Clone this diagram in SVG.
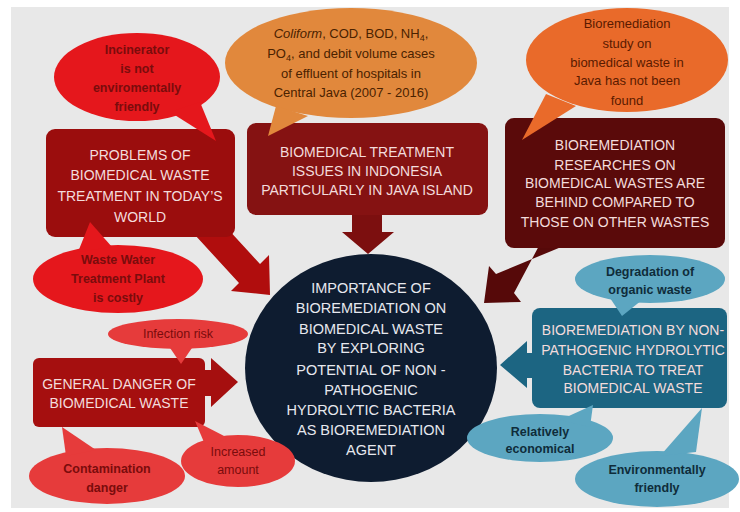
<svg xmlns="http://www.w3.org/2000/svg" width="740" height="512" viewBox="0 0 740 512">
<style>
.cap{font-family:"Liberation Sans",Arial,sans-serif;font-size:14px;text-anchor:middle;fill:#f3dcdc}
.cir{font-family:"Liberation Sans",Arial,sans-serif;font-size:14.5px;text-anchor:middle;fill:#e6e8ee}
.bub{font-family:"Liberation Sans",Arial,sans-serif;font-size:12.5px;font-weight:bold;text-anchor:middle}
.thin{font-weight:normal}
.redt{fill:#7a0c0c}
.ort{font-family:"Liberation Sans",Arial,sans-serif;font-size:13px;text-anchor:middle;fill:#4a2200}
.or2t{fill:#5a1a00}
.blt{fill:#0f2c3a}
.red{fill:#e5171c}
.red2{fill:#e63b3b}
.or1{fill:#e1883c}
.or2{fill:#e96a2a}
.lb{fill:#5ca6c1}
</style>
<rect x="0" y="0" width="740" height="512" fill="#ffffff"/>
<rect x="11" y="7" width="718" height="501" fill="#e8e8e8"/>

<g id="connectors">
  <polygon points="215,215 260,264 269,255 270,295 231,291 239,283 195,235" fill="#b00d0d"/>
  <polygon points="352,210 382,210 382,232 394,232 368,254 342,232 352,232" fill="#7c0f0f"/>
  <polygon points="550,225 514,293 521,302 484,303 489,266 496,274 566,245" fill="#560909"/>
  <polygon points="200,370 211,370 211,358 238,382 211,407 211,396 200,396" fill="#a50f0f"/>
  <polygon points="540,353 527,353 527,341 500,365 527,388 527,378 540,378" fill="#1c6582"/>
</g>

<g id="circle">
  <ellipse cx="371" cy="368" rx="126" ry="114" fill="#0e1c30"/>
  <text class="cir" x="371" y="293">IMPORTANCE OF</text>
  <text class="cir" x="371" y="313">BIOREMEDIATION ON</text>
  <text class="cir" x="371" y="334">BIOMEDICAL WASTE</text>
  <text class="cir" x="371" y="353">BY EXPLORING</text>
  <text class="cir" x="371" y="375">POTENTIAL OF NON -</text>
  <text class="cir" x="371" y="395">PATHOGENIC</text>
  <text class="cir" x="371" y="415">HYDROLYTIC BACTERIA</text>
  <text class="cir" x="371" y="435">AS BIOREMEDIATION</text>
  <text class="cir" x="371" y="455">AGENT</text>
</g>

<g id="problems">
  <rect x="46" y="129" width="189" height="108" rx="9" fill="#9b0d0d"/>
  <text class="cap" x="140" y="160">PROBLEMS OF</text>
  <text class="cap" x="140" y="180">BIOMEDICAL WASTE</text>
  <text class="cap" x="140" y="201">TREATMENT IN TODAY’S</text>
  <text class="cap" x="140" y="222">WORLD</text>
</g>

<g id="incinerator">
  <ellipse class="red" cx="137" cy="77" rx="83" ry="44"/>
  <polygon class="red" points="170,112 200,102 216,141"/>
  <text class="bub redt" x="137" y="54">Incinerator</text>
  <text class="bub redt" x="137" y="73">is not</text>
  <text class="bub redt" x="137" y="92">enviromentally</text>
  <text class="bub redt" x="137" y="111">friendly</text>
</g>

<g id="wastewater">
  <ellipse class="red" cx="118" cy="279" rx="85" ry="34"/>
  <polygon class="red" points="78,252 112,247 90,222"/>
  <text class="bub redt" x="118" y="264">Waste Water</text>
  <text class="bub redt" x="118" y="283">Treatment  Plant</text>
  <text class="bub redt" x="118" y="302">is costly</text>
</g>

<g id="indonesia">
  <rect x="247" y="123" width="241" height="92" rx="9" fill="#851212"/>
  <text class="cap" x="367" y="157">BIOMEDICAL TREATMENT</text>
  <text class="cap" x="367" y="176">ISSUES IN INDONESIA</text>
  <text class="cap" x="367" y="195">PARTICULARLY IN JAVA ISLAND</text>
</g>

<g id="coliform">
  <ellipse class="or1" cx="351" cy="63" rx="126" ry="55"/>
  <polygon class="or1" points="276,106 308,116 268,136"/>
  <text class="ort" x="351" y="38"><tspan font-style="italic">Coliform</tspan>, COD, BOD, NH<tspan font-size="9" dy="3">4</tspan><tspan dy="-3">,</tspan></text>
  <text class="ort" x="351" y="58">PO<tspan font-size="9" dy="3">4</tspan><tspan dy="-3">, and debit volume cases</tspan></text>
  <text class="ort" x="351" y="78">of effluent of hospitals in</text>
  <text class="ort" x="351" y="97">Central Java (2007 -  2016)</text>
</g>

<g id="researches">
  <rect x="505" y="118" width="220" height="130" rx="9" fill="#5a0a0a"/>
  <text class="cap" x="615" y="150">BIOREMEDIATION</text>
  <text class="cap" x="615" y="170">RESEARCHES ON</text>
  <text class="cap" x="615" y="188">BIOMEDICAL WASTES ARE</text>
  <text class="cap" x="615" y="207">BEHIND COMPARED TO</text>
  <text class="cap" x="615" y="227">THOSE ON OTHER WASTES</text>
</g>

<g id="study">
  <ellipse class="or2" cx="627" cy="60" rx="101" ry="52"/>
  <polygon class="or2" points="546,94 576,106 522,140"/>
  <text class="ort or2t" x="627" y="28">Bioremediation</text>
  <text class="ort or2t" x="627" y="48">study on</text>
  <text class="ort or2t" x="627" y="67">biomedical waste in</text>
  <text class="ort or2t" x="627" y="85">Java has not been</text>
  <text class="ort or2t" x="627" y="105">found</text>
</g>

<g id="general">
  <rect x="33" y="358" width="172" height="69" rx="6" fill="#a50f0f"/>
  <text class="cap" x="119" y="389">GENERAL DANGER OF</text>
  <text class="cap" x="119" y="408">BIOMEDICAL WASTE</text>
</g>

<g id="infection">
  <ellipse class="red2" cx="178" cy="334" rx="70" ry="15"/>
  <polygon class="red2" points="168,345 194,345 181,364"/>
  <text class="bub thin redt" x="178" y="338">Infection risk</text>
</g>

<g id="contamination">
  <ellipse class="red2" cx="107" cy="476" rx="78" ry="28"/>
  <polygon class="red2" points="62,427 66,456 96,450"/>
  <text class="bub redt" x="107" y="473">Contamination</text>
  <text class="bub redt" x="107" y="492">danger</text>
</g>

<g id="increased">
  <ellipse class="red2" cx="238" cy="461" rx="57" ry="26"/>
  <polygon class="red2" points="195,421 206,447 228,438"/>
  <text class="bub thin redt" x="238" y="456">Increased</text>
  <text class="bub thin redt" x="238" y="474">amount</text>
</g>

<g id="bacteria">
  <rect x="532" y="308" width="195" height="100" rx="8" fill="#1c6582"/>
  <text class="cap" x="633" y="335">BIOREMEDIATION BY  NON-</text>
  <text class="cap" x="633" y="355">PATHOGENIC HYDROLYTIC</text>
  <text class="cap" x="633" y="375">BACTERIA TO TREAT</text>
  <text class="cap" x="633" y="393">BIOMEDICAL WASTE</text>
</g>

<g id="degradation">
  <ellipse class="lb" cx="650" cy="279" rx="75" ry="24"/>
  <polygon class="lb" points="610,298 642,300 622,316"/>
  <text class="bub blt" x="650" y="276">Degradation of</text>
  <text class="bub blt" x="650" y="294">organic waste</text>
</g>

<g id="economical">
  <ellipse class="lb" cx="540" cy="438" rx="73" ry="24"/>
  <polygon class="lb" points="560,420 590,427 593,405"/>
  <text class="bub blt" x="540" y="436">Relatively</text>
  <text class="bub blt" x="540" y="453">economical</text>
</g>

<g id="environment">
  <ellipse class="lb" cx="657" cy="479" rx="82" ry="28"/>
  <polygon class="lb" points="660,456 696,452 702,408"/>
  <text class="bub blt" x="657" y="474">Environmentally</text>
  <text class="bub blt" x="657" y="492">friendly</text>
</g>
</svg>
